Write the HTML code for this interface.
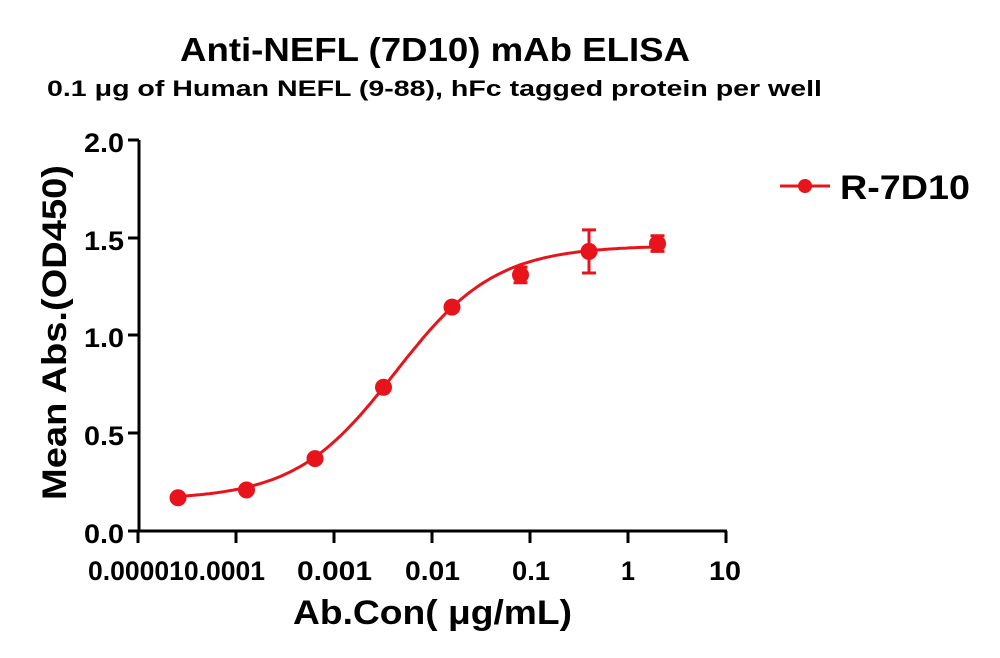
<!DOCTYPE html>
<html><head><meta charset="utf-8"><style>body{margin:0;background:#fff}svg{display:block}text{font-family:"Liberation Sans",Arial,sans-serif;font-weight:bold}</style></head>
<body>
<svg id="s" width="1000" height="658" viewBox="0 0 1000 658">
<text x="180" y="61" font-size="33" textLength="510" lengthAdjust="spacingAndGlyphs">Anti-NEFL (7D10) mAb ELISA</text>
<text x="47" y="96" font-size="22" textLength="775" lengthAdjust="spacingAndGlyphs">0.1 μg of Human NEFL (9-88), hFc tagged protein per well</text>
<g stroke="#000" stroke-width="3" fill="none">
<path d="M139 140 V532 M128 140 H139 M128 238 H139 M128 335 H139 M128 433 H139 M128 531 H139"/>
<path d="M137 531 H727 M138 531 V543 M236 531 V543 M334 531 V543 M432 531 V543 M530 531 V543 M628 531 V543 M726 531 V543"/>
</g>
<g font-size="27" text-anchor="end">
<text x="124" y="152" textLength="40" lengthAdjust="spacingAndGlyphs">2.0</text><text x="124" y="250" textLength="40" lengthAdjust="spacingAndGlyphs">1.5</text><text x="124" y="347" textLength="40" lengthAdjust="spacingAndGlyphs">1.0</text><text x="124" y="445" textLength="40" lengthAdjust="spacingAndGlyphs">0.5</text><text x="124" y="543" textLength="40" lengthAdjust="spacingAndGlyphs">0.0</text>
</g>
<g font-size="27">
<text x="88" y="580" textLength="177" lengthAdjust="spacingAndGlyphs">0.000010.0001</text>
<text x="297" y="580" textLength="75" lengthAdjust="spacingAndGlyphs">0.001</text>
<text x="405" y="580" textLength="55" lengthAdjust="spacingAndGlyphs">0.01</text>
<text x="512" y="580" textLength="38" lengthAdjust="spacingAndGlyphs">0.1</text>
<text x="621" y="580" textLength="14" lengthAdjust="spacingAndGlyphs">1</text>
<text x="709" y="580" textLength="32" lengthAdjust="spacingAndGlyphs">10</text>
</g>
<text x="293" y="624" font-size="34" textLength="279" lengthAdjust="spacingAndGlyphs">Ab.Con( μg/mL)</text>
<text transform="translate(66,500) rotate(-90)" font-size="34" textLength="335" lengthAdjust="spacingAndGlyphs">Mean Abs.(OD450)</text>
<path id="c" fill="none" stroke="#e8141b" stroke-width="3"/>
<g id="p" fill="#e8141b" stroke="#e8141b" stroke-width="3"></g>
<line x1="780" y1="186" x2="830" y2="186" stroke="#e8141b" stroke-width="3"/>
<circle cx="805" cy="186" r="7" fill="#e8141b"/>
<text x="840" y="199" font-size="34" textLength="130" lengthAdjust="spacingAndGlyphs">R-7D10</text>
</svg>
<script>
function X(c){return 138+(Math.log10(c)+5)*98}
function Y(v){return 531-v*195.5}
function f(c){return 0.16+1.30/(1+Math.pow(0.0042/c,0.85))}
var d="",lo=Math.log10(0.0000256),hi=Math.log10(2);
for(var i=0;i<=200;i++){var c=Math.pow(10,lo+(hi-lo)*i/200);d+=(i?"L":"M")+X(c).toFixed(1)+" "+Y(f(c)).toFixed(1);}
document.getElementById("c").setAttribute("d",d);
var pts=[[0.0000256,0.17,0],[0.000128,0.21,0],[0.00064,0.37,0],[0.0032,0.735,0],[0.016,1.145,0],[0.08,1.31,0.04],[0.4,1.43,0.11],[2,1.47,0.04]],h="";
pts.forEach(function(p){var x=X(p[0]),y=Y(p[1]);h+='<circle cx="'+x+'" cy="'+y+'" r="7"/>';
if(p[2]){var a=Y(p[1]+p[2]),b=Y(p[1]-p[2]);h+='<path fill="none" d="M'+x+' '+a+'V'+b+'M'+(x-7)+' '+a+'H'+(x+7)+'M'+(x-7)+' '+b+'H'+(x+7)+'"/>';}});
document.getElementById("p").innerHTML=h;
</script>
</body></html>
